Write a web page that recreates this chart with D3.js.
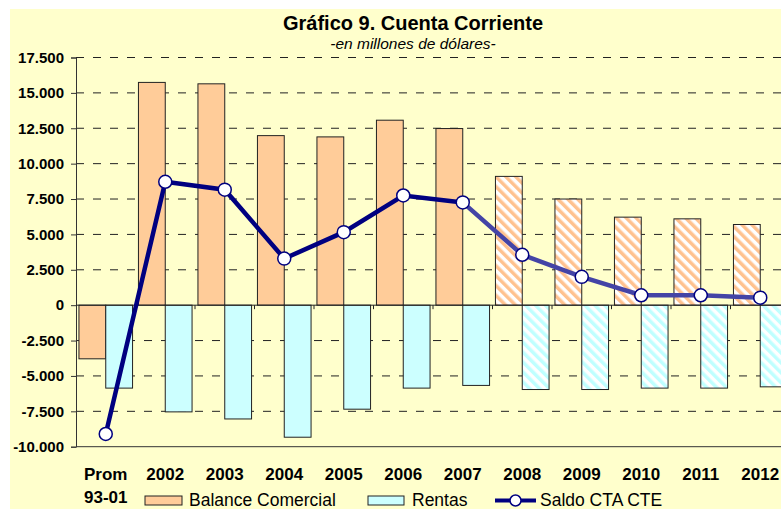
<!DOCTYPE html>
<html>
<head>
<meta charset="utf-8">
<script src="https://cdn.jsdelivr.net/npm/d3@7"></script>
<style>
  body { margin: 0; background: #fff; }
  text { font-family: "Liberation Sans", Arial, sans-serif; }
</style>
</head>
<body>
<script>
// datos
var categories = ["Prom 93-01", "2002", "2003", "2004", "2005", "2006", "2007", "2008", "2009", "2010", "2011", "2012"];
var balance = [-3790, 15740, 15640, 11980, 11890, 13070, 12480, 9100, 7500, 6220, 6100, 5700];
var rentas = [-5860, -7540, -8040, -9330, -7350, -5860, -5670, -5960, -5960, -5860, -5860, -5770];
var saldo = [-9100, 8720, 8160, 3290, 5160, 7750, 7260, 3560, 2000, 700, 700, 530];
var firstProj = 7; // desde 2008 son proyecciones
var yTicks = d3.range(-10000, 17501, 2500);

var W = 781, H = 509;
var svg = d3.select("body").append("svg")
  .attr("width", W)
  .attr("height", H);

var defs = svg.append("defs");
function hatch(id, color) {
  var p = defs.append("pattern")
    .attr("id", id)
    .attr("patternUnits", "userSpaceOnUse")
    .attr("width", 7)
    .attr("height", 7)
    .attr("patternTransform", "rotate(-45)");
  p.append("rect").attr("width", 7).attr("height", 7).attr("fill", "#fff");
  p.append("rect").attr("width", 3.5).attr("height", 7).attr("fill", color);
}
hatch("hatchBC", "#FFC28F");
hatch("hatchRE", "#BFFFFF");

// fondo
svg.append("rect")
  .attr("x", 10).attr("y", 9)
  .attr("width", W - 10).attr("height", H - 9)
  .attr("fill", "#FFFFCC");

var plotL = 76, plotR = 790, plotT = 57.5, plotB = 446.7;

var x = d3.scaleBand().domain(categories).range([plotL, plotR]);
var xs = d3.scaleBand().domain(["bc", "re"]).range([0, x.bandwidth()]).paddingOuter(0.11);
var y = d3.scaleLinear().domain([-10000, 17500]).range([plotB, plotT]);

var fmt = d3.formatLocale({decimal: ",", thousands: ".", grouping: [3], currency: ["", ""], minus: "-"}).format(",");

// grilla
svg.append("g").selectAll("line")
  .data(yTicks.filter(function(d){ return d != 0 && d != -10000; }))
  .enter().append("line")
  .attr("x1", plotL).attr("x2", W)
  .attr("y1", function(d){ return y(d); })
  .attr("y2", function(d){ return y(d); })
  .attr("stroke", "#222")
  .attr("stroke-width", 1)
  .attr("stroke-dasharray", "8,9");

svg.append("line")
  .attr("x1", plotL).attr("x2", W)
  .attr("y1", y(-10000)).attr("y2", y(-10000))
  .attr("stroke", "#333");

// barras
svg.append("g").selectAll("rect")
  .data(balance)
  .enter().append("rect")
  .attr("x", function(d, i){ return x(categories[i]) + xs("bc"); })
  .attr("width", xs.bandwidth())
  .attr("y", function(d){ return y(Math.max(0, d)); })
  .attr("height", function(d){ return Math.abs(y(d) - y(0)); })
  .attr("fill", function(d, i){ return i >= firstProj ? "url(#hatchBC)" : "#FFCC99"; })
  .attr("stroke", "#222")
  .attr("stroke-width", 1);

svg.append("g").selectAll("rect")
  .data(rentas)
  .enter().append("rect")
  .attr("x", function(d, i){ return x(categories[i]) + xs("re"); })
  .attr("width", xs.bandwidth())
  .attr("y", function(d){ return y(Math.max(0, d)); })
  .attr("height", function(d){ return Math.abs(y(d) - y(0)); })
  .attr("fill", function(d, i){ return i >= firstProj ? "url(#hatchRE)" : "#CCFFFF"; })
  .attr("stroke", "#222")
  .attr("stroke-width", 1);

// eje y
var yAxis = svg.append("g")
  .attr("transform", "translate(" + plotL + ",0)")
  .call(d3.axisLeft(y).tickValues(yTicks).tickSize(5).tickFormat(fmt));
yAxis.select(".domain").attr("stroke", "#333");
yAxis.selectAll(".tick line").attr("stroke", "#333");
yAxis.selectAll("text")
  .attr("x", -12)
  .attr("fill", "#000")
  .style("font-size", "15px")
  .style("font-weight", "bold")
  .style("font-family", "Liberation Sans, Arial, sans-serif");

// eje x en cero
svg.append("line")
  .attr("x1", plotL).attr("x2", W)
  .attr("y1", y(0)).attr("y2", y(0))
  .attr("stroke", "#222");
svg.append("g").selectAll("line")
  .data(categories.slice(1))
  .enter().append("line")
  .attr("x1", function(d){ return x(d); })
  .attr("x2", function(d){ return x(d); })
  .attr("y1", y(0)).attr("y2", y(0) + 4)
  .attr("stroke", "#222");

// etiquetas categorias
var lab = svg.append("g").selectAll("text")
  .data(categories)
  .enter().append("text")
  .attr("x", function(d){ return x(d) + x.bandwidth() / 2; })
  .attr("y", 480)
  .attr("text-anchor", "middle")
  .style("font-size", "17px")
  .style("font-weight", "bold");
lab.each(function(d){
  var parts = d.split(" ");
  var t = d3.select(this);
  parts.forEach(function(p, k){
    t.append("tspan")
      .attr("x", x(d) + x.bandwidth() / 2)
      .attr("dy", k == 0 ? 0 : 23)
      .text(p);
  });
});

// linea saldo
var line = d3.line()
  .x(function(d){ return x(d.c) + x.bandwidth() / 2; })
  .y(function(d){ return y(d.v); });
var pts = saldo.map(function(v, i){ return {c: categories[i], v: v}; });

svg.append("path")
  .datum(pts.slice(firstProj - 1))
  .attr("d", line)
  .attr("fill", "none")
  .attr("stroke", "#4444A6")
  .attr("stroke-width", 4.5);
svg.append("path")
  .datum(pts.slice(0, firstProj))
  .attr("d", line)
  .attr("fill", "none")
  .attr("stroke", "#000080")
  .attr("stroke-width", 4.5);

svg.append("g").selectAll("circle")
  .data(pts)
  .enter().append("circle")
  .attr("cx", function(d){ return x(d.c) + x.bandwidth() / 2; })
  .attr("cy", function(d){ return y(d.v); })
  .attr("r", 6.5)
  .attr("fill", "#fff")
  .attr("stroke", "#000080")
  .attr("stroke-width", 1.5);

// titulo
svg.append("text")
  .attr("x", 413).attr("y", 30)
  .attr("text-anchor", "middle")
  .style("font-size", "20px")
  .style("font-weight", "bold")
  .text("Gráfico 9. Cuenta Corriente");
svg.append("text")
  .attr("x", 413).attr("y", 49)
  .attr("text-anchor", "middle")
  .style("font-size", "15.5px")
  .style("font-style", "italic")
  .text("-en millones de dólares-");

// leyenda
var leg = svg.append("g");
leg.append("rect").attr("x", 145).attr("y", 496).attr("width", 37).attr("height", 9)
  .attr("fill", "#FFCC99").attr("stroke", "#222");
leg.append("text").attr("x", 189).attr("y", 506).style("font-size", "17.5px").text("Balance Comercial");
leg.append("rect").attr("x", 368).attr("y", 496).attr("width", 36).attr("height", 9)
  .attr("fill", "#CCFFFF").attr("stroke", "#222");
leg.append("text").attr("x", 412).attr("y", 506).style("font-size", "17.5px").text("Rentas");
leg.append("line").attr("x1", 495).attr("x2", 536).attr("y1", 500.5).attr("y2", 500.5)
  .attr("stroke", "#000080").attr("stroke-width", 4);
leg.append("circle").attr("cx", 515.5).attr("cy", 500.5).attr("r", 5.5)
  .attr("fill", "#fff").attr("stroke", "#000080").attr("stroke-width", 1.5);
leg.append("text").attr("x", 540).attr("y", 506).style("font-size", "17.5px").text("Saldo CTA CTE");
</script>
</body>
</html>
